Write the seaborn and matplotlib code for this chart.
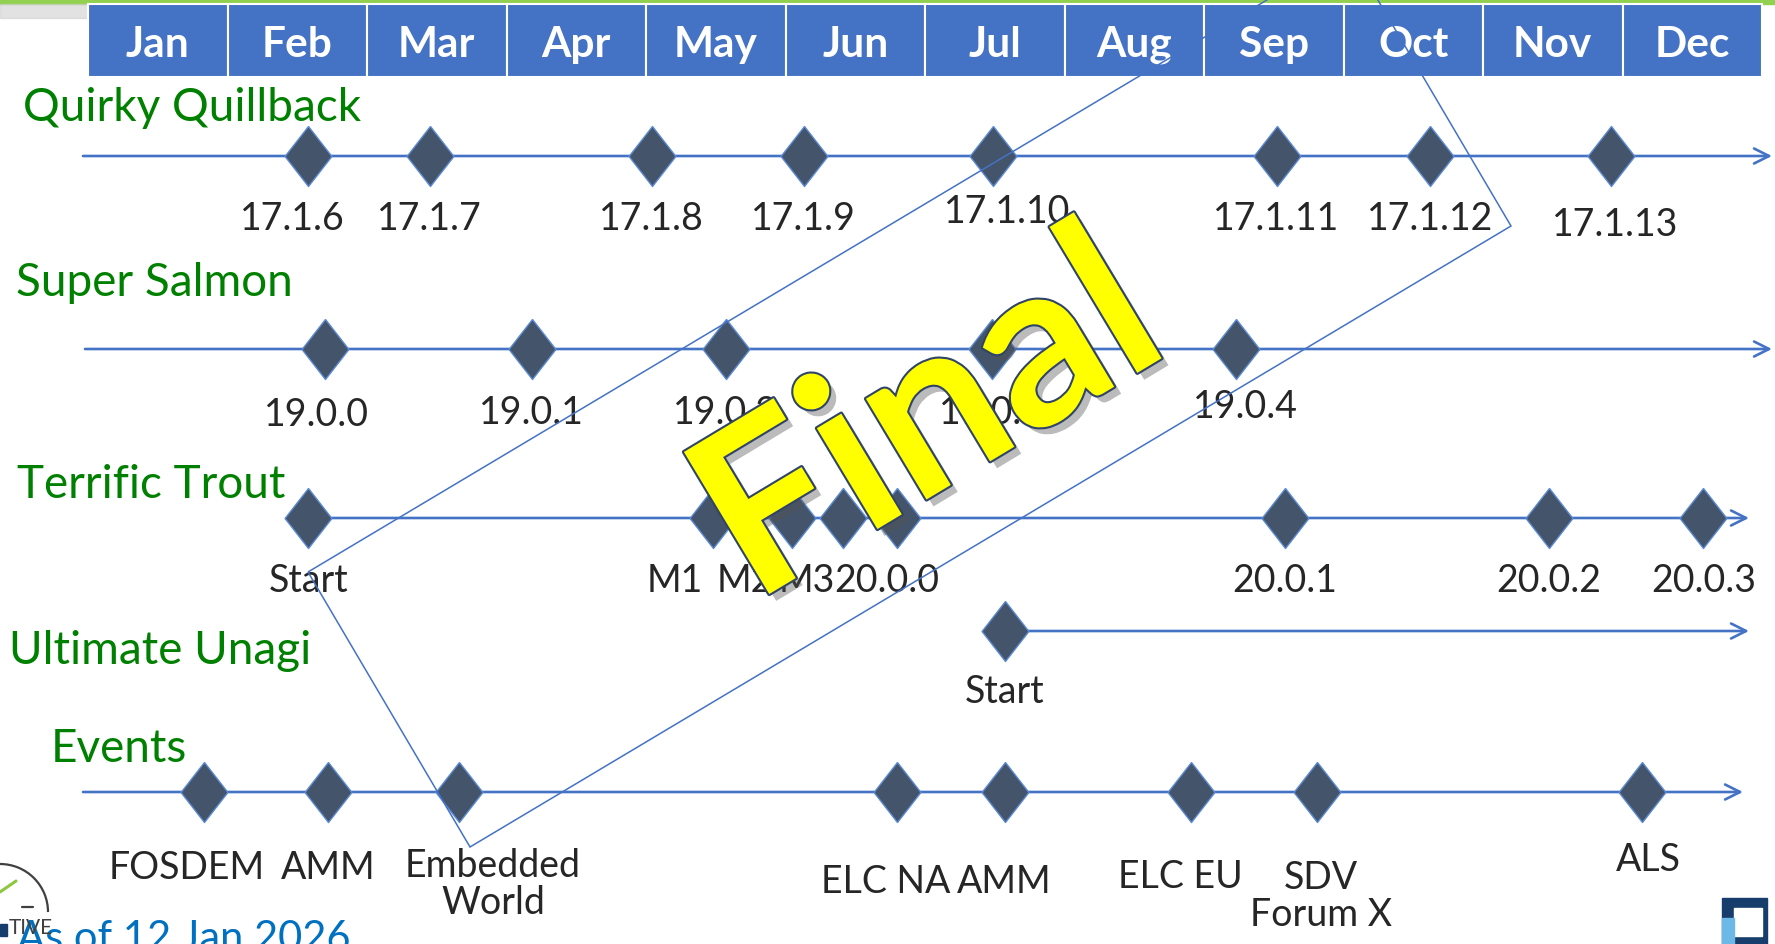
import pandas as pd
import seaborn as sns
import matplotlib.pyplot as plt
import matplotlib.patheffects as pe
from matplotlib.patches import Polygon, Rectangle, Arc

# ---- data: release / event dates in months since 1 Jan ----
months = ['Jan', 'Feb', 'Mar', 'Apr', 'May', 'Jun',
          'Jul', 'Aug', 'Sep', 'Oct', 'Nov', 'Dec']

quillback_names = ['17.1.6', '17.1.7', '17.1.8', '17.1.9', '17.1.10',
                   '17.1.11', '17.1.12', '17.1.13']
quillback_when = [1.58, 2.45, 4.04, 5.13, 6.49, 8.52, 9.62, 10.92]

salmon_names = ['19.0.0', '19.0.1', '19.0.2', '19.0.3', '19.0.4']
salmon_when = [1.70, 3.18, 4.57, 6.48, 8.23]

trout_names = ['Start', 'M1', 'M2', 'M3', '20.0.0', '20.0.1', '20.0.2', '20.0.3']
trout_when = [1.58, 4.48, 5.05, 5.41, 5.80, 8.58, 10.47, 11.58]

unagi_names = ['Start']
unagi_when = [6.57]

event_names = ['FOSDEM', 'AMM', 'Embedded\nWorld', 'ELC NA', 'AMM', 'ELC EU',
               'SDV\nForum X', 'ALS']
event_when = [0.83, 1.72, 2.66, 5.80, 6.57, 7.91, 8.81, 11.14]

rows = ['Quirky Quillback', 'Super Salmon', 'Terrific Trout', 'Ultimate Unagi', 'Events']

# ---- layout (pixels on a 1775x944 canvas, x converted to month units) ----
W, H = 1775, 944
X0, MW = 88, 139.5          # pixel of 1 Jan, pixels per month


def mx(px):
    return (px - X0) / MW


row_y = {'Quirky Quillback': 156, 'Super Salmon': 349, 'Terrific Trout': 518,
         'Ultimate Unagi': 631, 'Events': 792}
line_span = {'Quirky Quillback': (83, 1772), 'Super Salmon': (85, 1772),
             'Terrific Trout': (308, 1749), 'Ultimate Unagi': (1004, 1749),
             'Events': (83, 1743)}
title_pos = {'Quirky Quillback': (23, 108), 'Super Salmon': (16, 283),
             'Terrific Trout': (17, 485), 'Ultimate Unagi': (9, 651),
             'Events': (51, 749)}
label_gap = {'Quirky Quillback': 45, 'Super Salmon': 46, 'Terrific Trout': 45,
             'Ultimate Unagi': 43, 'Events': 58}
# small per-label nudges (dx, dy) in pixels, as on the slide
nudge = {('Quirky Quillback', '17.1.6'): (-16, 0), ('Quirky Quillback', '17.1.10'): (14, -7),
         ('Quirky Quillback', '17.1.13'): (4, 6), ('Super Salmon', '19.0.0'): (-9, 2),
         ('Super Salmon', '19.0.4'): (9, -6),
         ('Terrific Trout', 'M1'): (-38, 0), ('Terrific Trout', 'M2'): (-48, 0),
         ('Terrific Trout', 'M3'): (-36, 0), ('Terrific Trout', '20.0.0'): (-10, 0),
         ('Events', 'FOSDEM'): (-17, 0), ('Events', 'Embedded\nWorld'): (34, -2),
         ('Events', 'ELC NA'): (-11, 14), ('Events', 'AMM#2'): (0, 14),
         ('Events', 'ELC EU'): (-11, 9), ('Events', 'SDV\nForum X'): (4, 10),
         ('Events', 'ALS'): (6, -8)}

frames = []
for row, names, when in [('Quirky Quillback', quillback_names, quillback_when),
                         ('Super Salmon', salmon_names, salmon_when),
                         ('Terrific Trout', trout_names, trout_when),
                         ('Ultimate Unagi', unagi_names, unagi_when),
                         ('Events', event_names, event_when)]:
    frames.append(pd.DataFrame({'row': row, 'name': names, 'when': when}))
df = pd.concat(frames, ignore_index=True)
df['y'] = df['row'].map(row_y)

sns.set_style('white')
plt.rcParams['font.family'] = ['Lato', 'DejaVu Sans']

fig = plt.figure(figsize=(W / 100, H / 100), dpi=100)
ax = fig.add_axes([0, 0, 1, 1])

# green title bar and shadow
ax.add_patch(Rectangle((mx(0), 0), mx(W) - mx(0), 4, color='#92D050', zorder=1))
ax.add_patch(Rectangle((mx(0), 4), mx(250) - mx(0), 14, color='#D0D0D0', alpha=0.6, zorder=1))

# month header
ax.bar([i + 0.5 for i in range(12)], 73, width=1, bottom=4, color='#4472C4',
       edgecolor='white', linewidth=1.5, zorder=2)
for i, m in enumerate(months):
    ax.text(i + 0.5, 45, m, color='white', fontsize=30.5, fontweight='bold',
            ha='center', va='center', zorder=3)

# timeline rows
for row in rows:
    y = row_y[row]
    x_a, x_b = line_span[row]
    ax.annotate('', xy=(mx(x_b), y), xytext=(mx(x_a), y),
                arrowprops=dict(arrowstyle='->', color='#4472C4', lw=1.9,
                                mutation_scale=27, shrinkA=0, shrinkB=0),
                zorder=2)
    tx, ty = title_pos[row]
    ax.text(mx(tx), ty, row, color='#008000', fontsize=33, ha='left', va='center')

diamond = [(0, 1), (0.78, 0), (0, -1), (-0.78, 0), (0, 1)]
sns.scatterplot(data=df, x='when', y='y', marker=diamond, s=1870, color='#44546A',
                edgecolor='#5B8BD6', linewidth=1, legend=False, ax=ax, zorder=3)
ax.set_xlim(mx(0), mx(W))
ax.set_ylim(H, 0)
ax.axis('off')

seen = {}
for _, r in df.iterrows():
    key = (r['row'], r['name'])
    if key in seen:
        key = (r['row'], r['name'] + '#2')
    seen[key] = True
    dx, dy = nudge.get(key, (0, 0))
    ax.text(r['when'] + dx / MW, r['y'] + label_gap[r['row']] + dy, r['name'],
            fontsize=27, ha='center', va='top', linespacing=1.05, zorder=4)

# "Final" stamp and its frame
frame = Polygon([(mx(308), 572), (mx(470), 847), (mx(1511), 226), (mx(1349), -49)],
                closed=True, fill=False, edgecolor='#4472C4', linewidth=1.1, zorder=5)
ax.add_patch(frame)
ax.text(mx(930), 421, 'Final', fontsize=165, fontweight='bold', color='#FFFF00',
        rotation=31, rotation_mode='anchor', ha='center', va='center', zorder=6,
        path_effects=[pe.SimplePatchShadow(offset=(5, -5), shadow_rgbFace='#555555', alpha=0.4),
                      pe.Stroke(linewidth=3, foreground='#2F4468'), pe.Normal()])

# footer
ax.text(mx(17), 920, 'As of 12 Jan 2026', color='#0070C0', fontsize=30, ha='left', va='top')
ax.add_patch(Arc((mx(0), 912), 2 * 48 / MW, 2 * 48, theta1=-90, theta2=8,
                 color='#404040', lw=1.6, zorder=4))
ax.plot([mx(0), mx(16)], [892, 881], color='#8DC63F', lw=2.2, zorder=4)
ax.plot([mx(22), mx(33)], [907, 907], color='#404040', lw=1.6, zorder=4)
ax.add_patch(Rectangle((mx(0), 924), 7 / MW, 12, color='#163D6B', zorder=4))
ax.text(mx(9), 938, 'TIVE', color='#404040', fontsize=15, ha='left', va='bottom', zorder=4)
ax.add_patch(Rectangle((mx(1722), 898), 45 / MW, 46, color='#163D6B', zorder=4))
ax.add_patch(Rectangle((mx(1734), 908), 28 / MW, 28, color='white', zorder=5))
ax.add_patch(Rectangle((mx(1722), 918), 12 / MW, 26, color='#6CB8E6', zorder=5))

fig.savefig('out.png', dpi=100)
